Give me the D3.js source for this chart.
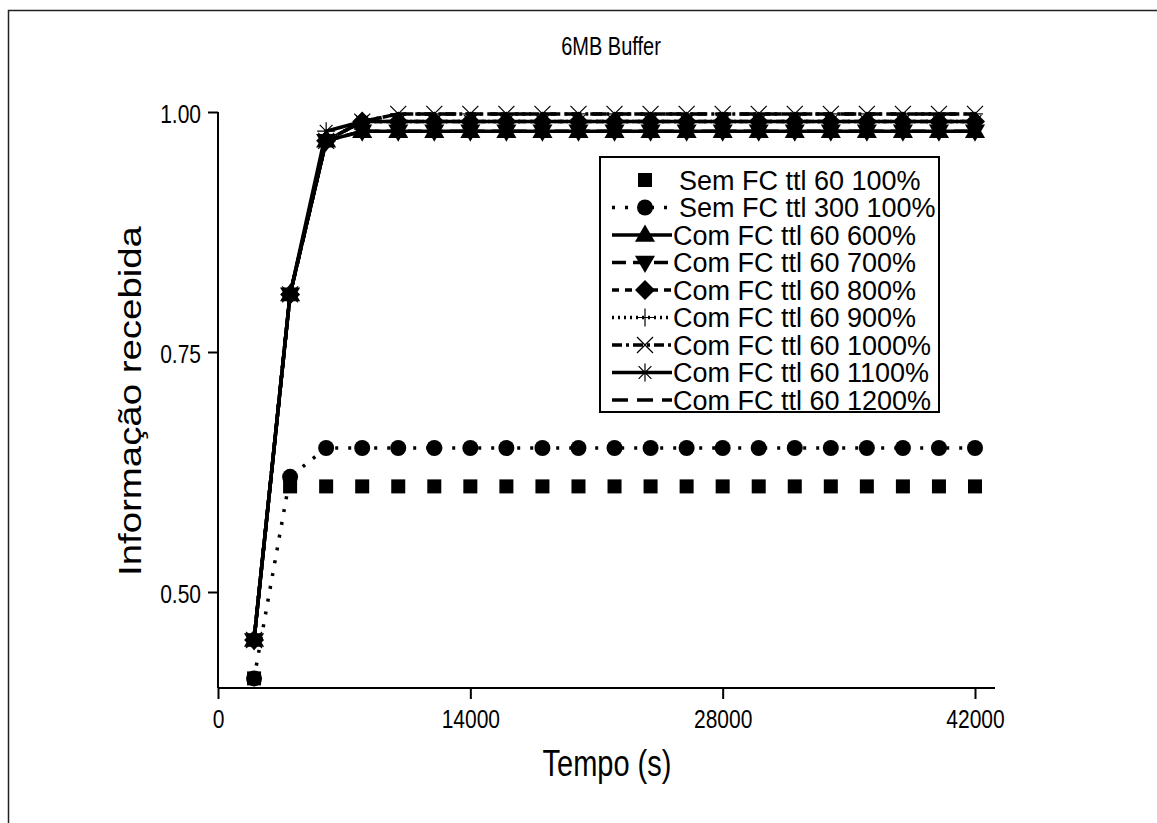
<!DOCTYPE html>
<html>
<head>
<meta charset="utf-8">
<script src="https://cdn.jsdelivr.net/npm/d3@7"></script>
<style>
  body { margin: 0; background: #fff; }
  text { font-family: "Liberation Sans", Arial, sans-serif; fill: #000; }
</style>
</head>
<body>
<div id="chart"></div>
<script>
// time points (s)
var tempo = [2000, 4000, 6000, 8000, 10000, 12000, 14000, 16000, 18000, 20000, 22000,
             24000, 26000, 28000, 30000, 32000, 34000, 36000, 38000, 40000, 42000];

// fraction of information received, one list per run
var semFc60   = [0.41, 0.61, 0.61, 0.61, 0.61, 0.61, 0.61, 0.61, 0.61, 0.61, 0.61, 0.61, 0.61, 0.61, 0.61, 0.61, 0.61, 0.61, 0.61, 0.61, 0.61];
var semFc300  = [0.41, 0.62, 0.65, 0.65, 0.65, 0.65, 0.65, 0.65, 0.65, 0.65, 0.65, 0.65, 0.65, 0.65, 0.65, 0.65, 0.65, 0.65, 0.65, 0.65, 0.65];
var comFc600  = [0.45, 0.81, 0.97, 0.98, 0.98, 0.98, 0.98, 0.98, 0.98, 0.98, 0.98, 0.98, 0.98, 0.98, 0.98, 0.98, 0.98, 0.98, 0.98, 0.98, 0.98];
var comFc700  = [0.45, 0.81, 0.97, 0.98, 0.98, 0.98, 0.98, 0.98, 0.98, 0.98, 0.98, 0.98, 0.98, 0.98, 0.98, 0.98, 0.98, 0.98, 0.98, 0.98, 0.98];
var comFc800  = [0.45, 0.81, 0.97, 0.99, 0.99, 0.99, 0.99, 0.99, 0.99, 0.99, 0.99, 0.99, 0.99, 0.99, 0.99, 0.99, 0.99, 0.99, 0.99, 0.99, 0.99];
var comFc900  = [0.45, 0.81, 0.97, 0.99, 0.99, 0.99, 0.99, 0.99, 0.99, 0.99, 0.99, 0.99, 0.99, 0.99, 0.99, 0.99, 0.99, 0.99, 0.99, 0.99, 0.99];
var comFc1000 = [0.45, 0.81, 0.97, 0.99, 0.998, 0.998, 0.998, 0.998, 0.998, 0.998, 0.998, 0.998, 0.998, 0.998, 0.998, 0.998, 0.998, 0.998, 0.998, 0.998, 0.998];
var comFc1100 = [0.45, 0.81, 0.98, 0.99, 0.99, 0.99, 0.99, 0.99, 0.99, 0.99, 0.99, 0.99, 0.99, 0.99, 0.99, 0.99, 0.99, 0.99, 0.99, 0.99, 0.99];
var comFc1200 = [0.45, 0.81, 0.97, 0.99, 0.998, 0.998, 0.998, 0.998, 0.998, 0.998, 0.998, 0.998, 0.998, 0.998, 0.998, 0.998, 0.998, 0.998, 0.998, 0.998, 0.998];

var seriesNames = ["Sem FC ttl 60 100%", "Sem FC ttl 300 100%", "Com FC ttl 60 600%",
                   "Com FC ttl 60 700%", "Com FC ttl 60 800%", "Com FC ttl 60 900%",
                   "Com FC ttl 60 1000%", "Com FC ttl 60 1100%", "Com FC ttl 60 1200%"];
var xTicks = [0, 14000, 28000, 42000];
var yTicks = [0.50, 0.75, 1.00];

// line / marker style per series
var styles = [
  { dash: null,        noLine: true, marker: "square" },
  { dash: "3,10",      marker: "circle" },
  { dash: null,        marker: "triUp" },
  { dash: "14,7",      marker: "triDown" },
  { dash: "7,6",       marker: "diamond" },
  { dash: "2,4",       marker: "plus" },
  { dash: "10,4,3,4",  marker: "cross" },
  { dash: null,        marker: "star" },
  { dash: "16,9",      marker: "dash" }
];
var allValues = [semFc60, semFc300, comFc600, comFc700, comFc800, comFc900, comFc1000, comFc1100, comFc1200];

var W = 1157, H = 823;
var svg = d3.select("#chart").append("svg").attr("width", W).attr("height", H);

// outer frame
svg.append("rect").attr("x", 8.5).attr("y", 10.5).attr("width", 1300).attr("height", 1000)
  .attr("fill", "none").attr("stroke", "#222").attr("stroke-width", 1.5);

var x = d3.scaleLinear().domain([0, 42000]).range([218, 975]);
var y = d3.scaleLinear().domain([0.4, 1.0]).range([688, 112]);

// axes
svg.append("line").attr("x1", 218).attr("x2", 995).attr("y1", y(0.4)).attr("y2", y(0.4))
  .attr("stroke", "#000").attr("stroke-width", 2);
svg.append("line").attr("x1", 218).attr("x2", 218).attr("y1", y(1.0)).attr("y2", y(0.4))
  .attr("stroke", "#000").attr("stroke-width", 2);

// the original text is a bit stretched vertically
var tall = 1.25;

var xAxis = svg.append("g").attr("transform", "translate(0," + y(0.4) + ")")
  .call(d3.axisBottom(x).tickValues(xTicks).tickSize(11).tickFormat(d3.format("d")));
xAxis.select(".domain").remove();
xAxis.selectAll("line").attr("stroke-width", 2);
xAxis.selectAll("text").style("font-size", "21px").attr("font-family", null)
  .attr("y", null).attr("dy", null)
  .attr("transform", "translate(0,40) scale(1," + tall + ")");

var yAxis = svg.append("g").attr("transform", "translate(218,0)")
  .call(d3.axisLeft(y).tickValues(yTicks).tickSize(10).tickFormat(d3.format(".2f")));
yAxis.select(".domain").remove();
yAxis.selectAll("line").attr("stroke-width", 2);
yAxis.selectAll("text").style("font-size", "21px").attr("font-family", null)
  .attr("x", null).attr("dy", null)
  .attr("transform", "translate(-17,10) scale(1," + tall + ")");

// titles
svg.append("text").attr("transform", "translate(611,55) scale(1," + tall + ")").attr("text-anchor", "middle")
  .style("font-size", "20px").text("6MB Buffer");
svg.append("text").attr("transform", "translate(607,776) scale(1," + tall + ")").attr("text-anchor", "middle")
  .style("font-size", "29px").text("Tempo (s)");
svg.append("text").attr("transform", "translate(141,401) rotate(-90) scale(1.2,1)").attr("text-anchor", "middle")
  .style("font-size", "32px").text("Informação recebida");

// marker drawing
function drawMarker(g, kind, cx, cy) {
  var s;
  if (kind === "square") {
    g.append("rect").attr("x", cx - 7).attr("y", cy - 7).attr("width", 14).attr("height", 14).attr("fill", "#000");
  } else if (kind === "circle") {
    g.append("circle").attr("cx", cx).attr("cy", cy).attr("r", 8).attr("fill", "#000");
  } else if (kind === "triUp") {
    g.append("path").attr("d", d3.symbol(d3.symbolTriangle, 175)())
      .attr("transform", "translate(" + cx + "," + (cy + 1) + ")").attr("fill", "#000");
  } else if (kind === "triDown") {
    g.append("path").attr("d", d3.symbol(d3.symbolTriangle, 175)())
      .attr("transform", "translate(" + cx + "," + (cy - 1) + ") rotate(180)").attr("fill", "#000");
  } else if (kind === "diamond") {
    g.append("path").attr("d", "M0,-10L10,0L0,10L-10,0Z")
      .attr("transform", "translate(" + cx + "," + cy + ")").attr("fill", "#000");
  } else if (kind === "plus") {
    s = 9;
    g.append("path").attr("d", "M" + (cx - s) + "," + cy + "H" + (cx + s) + "M" + cx + "," + (cy - s) + "V" + (cy + s))
      .attr("stroke", "#000").attr("stroke-width", 1.2).attr("fill", "none");
  } else if (kind === "cross") {
    s = 8;
    g.append("path").attr("d", "M" + (cx - s) + "," + (cy - s) + "L" + (cx + s) + "," + (cy + s) +
      "M" + (cx - s) + "," + (cy + s) + "L" + (cx + s) + "," + (cy - s))
      .attr("stroke", "#000").attr("stroke-width", 1.2).attr("fill", "none");
  } else if (kind === "star") {
    s = 9;
    var d = 6.4;
    g.append("path").attr("d", "M" + (cx - s) + "," + cy + "H" + (cx + s) + "M" + cx + "," + (cy - s) + "V" + (cy + s) +
      "M" + (cx - d) + "," + (cy - d) + "L" + (cx + d) + "," + (cy + d) +
      "M" + (cx - d) + "," + (cy + d) + "L" + (cx + d) + "," + (cy - d))
      .attr("stroke", "#000").attr("stroke-width", 1.2).attr("fill", "none");
  } else if (kind === "dash") {
    g.append("path").attr("d", "M" + (cx - 8) + "," + cy + "H" + (cx + 8))
      .attr("stroke", "#000").attr("stroke-width", 1.2).attr("fill", "none");
  }
}

var line = d3.line().x(function(d) { return x(d[0]); }).y(function(d) { return y(d[1]); });
var plot = svg.append("g");

allValues.forEach(function(vals, i) {
  var st = styles[i];
  var pts = tempo.map(function(t, j) { return [t, vals[j]]; });
  if (!st.noLine) {
    plot.append("path").datum(pts).attr("d", line).attr("fill", "none")
      .attr("stroke", "#000").attr("stroke-width", 3.5)
      .attr("stroke-dasharray", st.dash);
  }
  var mg = plot.append("g");
  pts.forEach(function(p) { drawMarker(mg, st.marker, x(p[0]), y(p[1])); });
});

// legend
var leg = svg.append("g");
leg.append("rect").attr("x", 600).attr("y", 157).attr("width", 339).attr("height", 255)
  .attr("fill", "#fff").attr("stroke", "#000").attr("stroke-width", 2);
seriesNames.forEach(function(name, i) {
  var st = styles[i];
  var cy = 180 + i * 27.5;
  if (!st.noLine) {
    leg.append("line").attr("x1", 612).attr("x2", 672).attr("y1", cy).attr("y2", cy)
      .attr("stroke", "#000").attr("stroke-width", 3.5).attr("stroke-dasharray", st.dash);
  }
  drawMarker(leg, st.marker, 645, cy);
  leg.append("text").attr("x", i < 2 ? 679 : 673).attr("y", cy + 9.5)
    .style("font-size", "27px").text(name);
});
</script>
</body>
</html>
